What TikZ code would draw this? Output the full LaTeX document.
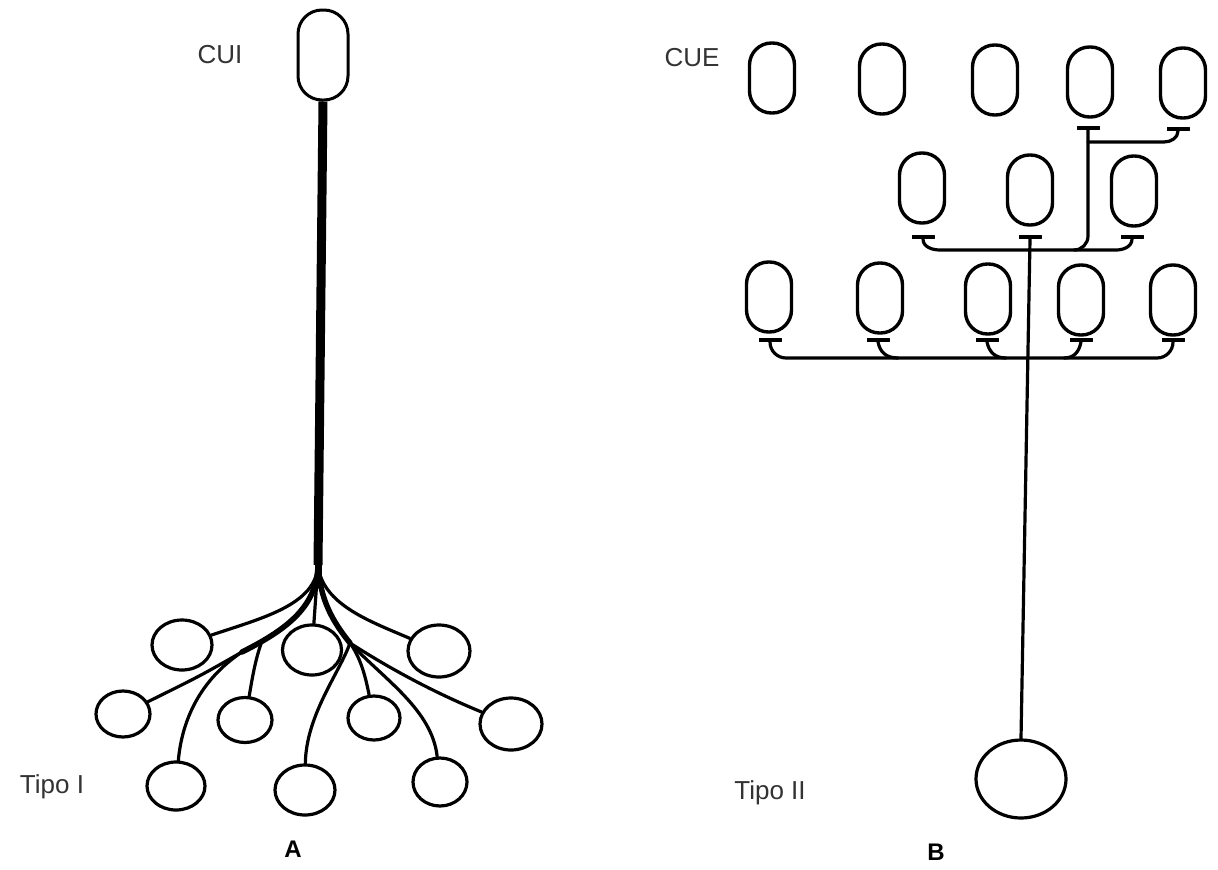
\documentclass[tikz,border=0pt]{standalone}
\usepackage{fontspec}
\setmainfont{Liberation Sans}
\usetikzlibrary{shapes.geometric}
\begin{document}
\begin{tikzpicture}[x=1pt,y=-1pt,
  line cap=round, line join=round,
  capsule/.style={draw, line width=3.4pt, rectangle, rounded corners=22pt, minimum width=45pt, minimum height=70pt, inner sep=0pt},
  bigcap/.style={draw, line width=3pt, rectangle, rounded corners=24pt, minimum width=50pt, minimum height=90pt, inner sep=0pt},
  soma/.style={draw, line width=3.2pt, ellipse, inner sep=0pt},
  bouton/.style={draw, fill=black, line width=1pt, rectangle, minimum width=22pt, minimum height=3pt, inner sep=0pt},
  fiber/.style={line width=3.2pt},
  bundle/.style={line width=5.5pt},
  lbl/.style={font=\fontsize{26}{30}\selectfont, text=black!80},
  letter/.style={font=\bfseries\fontsize{24}{28}\selectfont}]
\useasboundingbox (0,0) rectangle (1218,870);

% ---------- A ----------
\node[bigcap] (cui) at (323,55) {};
\node[lbl] (lcui) at (220,55) {CUI};
\coordinate (br) at (318,565);
\coordinate (L) at (242,652);
\coordinate (R) at (350,643);
\coordinate (M) at (262,641);
\draw[line width=9pt, line cap=butt] (cui.south) -- (br);

\node[soma, minimum width=60pt, minimum height=50pt] (c1) at (182,645) {};
\node[soma, minimum width=59pt, minimum height=50pt] (c2) at (312,650) {};
\node[soma, minimum width=62pt, minimum height=52pt] (c3) at (439,651) {};
\node[soma, minimum width=54pt, minimum height=46pt] (c4) at (123,714) {};
\node[soma, minimum width=54pt, minimum height=45pt] (c5) at (245,720) {};
\node[soma, minimum width=52pt, minimum height=44pt] (c6) at (374,718) {};
\node[soma, minimum width=62pt, minimum height=52pt] (c7) at (511,724) {};
\node[soma, minimum width=58pt, minimum height=48pt] (c8) at (176,786) {};
\node[soma, minimum width=60pt, minimum height=50pt] (c9) at (305,790) {};
\node[soma, minimum width=54pt, minimum height=48pt] (c10) at (440,782) {};

% bundles
\draw[bundle] (br) .. controls (317,605) and (290,628) .. (L);
\draw[bundle] (br) .. controls (320,600) and (333,622) .. (R);
\draw[line width=7pt] (br) -- (318,585);
% left side
\draw[fiber] (br) .. controls (316,605) and (262,618) .. (c1);
\draw[fiber] (L) .. controls (200,676) .. (c4);
\draw[fiber] (L) .. controls (200,680) and (182,720) .. (c8);
\draw[fiber] (M) .. controls (255,660) and (252,680) .. (c5);
\draw[fiber] (br) -- (c2);
% right side
\draw[fiber] (br) .. controls (322,605) and (372,622) .. (c3);
\draw[fiber] (R) .. controls (362,660) and (366,680) .. (c6);
\draw[fiber] (R) .. controls (395,672) and (440,695) .. (c7);
\draw[fiber] (R) .. controls (385,680) and (432,710) .. (c10);
\draw[fiber] (R) .. controls (340,672) and (306,715) .. (c9);

\node[lbl] (ltipo1) at (52,787) {Tipo I};
\node[letter] (la) at (293,849) {A};

% ---------- B ----------
\node[lbl] (lcue) at (692,58) {CUE};
\node[capsule] (e11) at (772,78) {};
\node[capsule] (e12) at (882,79) {};
\node[capsule] (e13) at (995,80) {};
\node[capsule] (e14) at (1090,82) {};
\node[capsule] (e15) at (1183,83) {};
\node[capsule] (e21) at (922,188) {};
\node[capsule] (e22) at (1030,190) {};
\node[capsule] (e23) at (1134,191) {};
\node[capsule] (e31) at (769,297) {};
\node[capsule] (e32) at (880,298) {};
\node[capsule] (e33) at (988,299) {};
\node[capsule] (e34) at (1081,300) {};
\node[capsule] (e35) at (1173,300) {};

\node[bouton] (b14) at (1088,128) {};
\node[bouton] (b15) at (1178,129) {};
\node[bouton] (b21) at (923,237) {};
\node[bouton] (b22) at (1030,237) {};
\node[bouton] (b23) at (1132,237) {};
\node[bouton] (b31) at (770,340) {};
\node[bouton] (b32) at (878,340) {};
\node[bouton] (b33) at (987,340) {};
\node[bouton] (b34) at (1081,340) {};
\node[bouton] (b35) at (1173,340) {};

\coordinate (j1) at (1088,142);
\coordinate (j2) at (1074,250);
\coordinate (bl2) at (940,250);
\coordinate (br2) at (1116,250);
\coordinate (bl3) at (786,358);
\coordinate (br3) at (1157,358);

% row 1 -> row 2
\draw[fiber] (b15.south) to[out=-90,in=0] (1164,142) -- (j1);
\draw[fiber] (b14.south) -- (1088,236) to[out=-90,in=0] (j2);
% row 2 bus
\draw[fiber] (b21.south) to[out=-90,in=180] (bl2) -- (br2) to[out=0,in=-90] (b23.south);
% row 3 bus
\draw[fiber] (b31.south) to[out=-90,in=180] (bl3) -- (br3) to[out=0,in=-90] (b35.south);
\draw[fiber] (b32.south) .. controls (880,352) and (886,358) .. (898,358);
\draw[fiber] (b33.south) .. controls (989,352) and (995,358) .. (1006,358);
\draw[fiber] (b34.south) .. controls (1079,352) and (1074,358) .. (1064,358);

\node[soma, minimum width=90pt, minimum height=78pt] (s2) at (1021,779) {};
\draw[fiber] (b22.south) -- (s2.north);

\node[lbl] (ltipo2) at (770,793) {Tipo II};
\node[letter] (lb) at (936,852) {B};
\end{tikzpicture}
\end{document}
